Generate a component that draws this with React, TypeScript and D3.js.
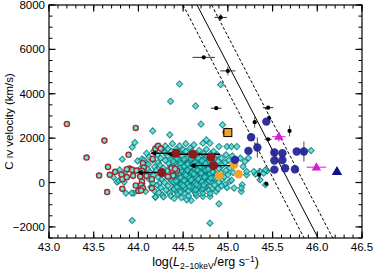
import React from 'react';
import * as d3 from 'd3';

const W = 374, H = 270;
const PL = 49, PR = 362, PT = 5, PB = 238;

const xDomain = [43, 46.5];
const yDomain = [-2500, 8000];
const xMajor = [43.0, 43.5, 44.0, 44.5, 45.0, 45.5, 46.0, 46.5];
const xTickLabels = ['43.0', '43.5', '44.0', '44.5', '45.0', '45.5', '46.0', '46.5'];
const yMajor = [-2000, 0, 2000, 4000, 6000, 8000];
const yTickLabels = ['\u22122000', '0', '2000', '4000', '6000', '8000'];

// relation lines: v = slope * (L - L0)
const relSlope = -7755;
const relL0 = [45.53, 45.687, 45.85];
const relDash = ['3,2', '', '3,2'];

// cyan diamonds [logL, v]
const cyanPoints: [number, number][] = [
  [43.93,-1710],[44.80,-1830],[44.90,-960],[44.59,-810],[44.19,-657],[43.95,-477],[43.86,-477],[43.76,20],
  [44.46,4440],[44.36,3660],[44.92,4410],[44.64,3450],[44.70,2630],[44.94,2600],[44.16,2325],[44.35,2150],
  [45.93,1440],[45.15,-405],[45.31,378],[45.44,527],[45.21,346],[45.07,-250],[45.14,1100],[45.19,945],
  [45.23,1100],[45.17,720],[45.21,495],[45.29,495],[45.36,495],[45.40,420],[45.42,570],[45.36,120],
  [45.42,-100],[44.97,-100],[44.99,-230],[45.16,-100],[45.15,-250],[44.80,-630],[44.72,-630],[44.65,-600],
  [44.76,1920],[44.72,1770],[44.80,1770],[44.90,1620],[44.99,1620],[45.04,1620],[45.10,1620],
  [43.82,1050],[43.79,570],[43.86,500],[43.72,243],[43.96,1800],[43.93,1590],[43.78,75],[43.84,18],
  [43.925,-477],[43.99,975],[44.04,1065],[44.09,1320],[44.09,870],[44.19,-657],
  [44.06,1000],[44.02,620],[44.07,330],[44.04,-60],[44.08,-400],
  [44.12,1150],[44.11,820],[44.13,480],[44.12,150],[44.14,-200],[44.10,620],
  [44.17,1420],[44.16,1010],[44.18,700],[44.17,330],[44.16,-30],[44.18,-380],
  [44.21,1250],[44.22,900],[44.20,560],[44.22,240],[44.21,-120],[44.23,-450],[44.20,1600],
  [44.26,1480],[44.25,1100],[44.24,780],[44.26,130],[44.25,-230],[44.27,-560],[44.24,-20],
  [44.29,1350],[44.30,1000],[44.28,650],[44.30,350],[44.29,0],[44.31,-330],[44.28,-650],[44.30,1650],
  [44.33,1200],[44.34,850],[44.32,520],[44.34,200],[44.33,-150],[44.35,-480],[44.33,1520],
  [44.37,1400],[44.38,1050],[44.36,700],[44.38,420],[44.37,60],[44.39,-280],[44.36,-600],[44.38,1750],
  [44.41,1150],[44.42,880],[44.40,560],[44.42,250],[44.41,-80],[44.43,-420],[44.40,-720],[44.42,1500],
  [44.45,1350],[44.46,1000],[44.44,720],[44.46,400],[44.45,120],[44.47,-200],[44.44,-520],[44.46,1650],
  [44.49,1200],[44.50,900],[44.48,600],[44.50,300],[44.49,-20],[44.51,-350],[44.48,-680],[44.50,1480],
  [44.53,1400],[44.54,1080],[44.52,780],[44.54,480],[44.53,180],[44.55,-150],[44.52,-480],[44.54,-780],[44.53,1750],
  [44.57,1250],[44.58,950],[44.56,640],[44.58,330],[44.57,30],[44.59,-280],[44.56,-600],[44.58,1550],
  [44.61,1100],[44.62,800],[44.60,500],[44.62,200],[44.61,-100],[44.63,-420],[44.60,1400],[44.62,1700],
  [44.65,1300],[44.66,980],[44.64,680],[44.66,380],[44.65,80],[44.67,-230],[44.64,-500],
  [44.69,1150],[44.70,850],[44.68,560],[44.70,250],[44.69,-60],[44.71,-380],[44.68,1450],
  [44.73,1300],[44.74,1000],[44.72,700],[44.74,420],[44.73,120],[44.75,-200],[44.72,-480],
  [44.77,1150],[44.78,820],[44.76,540],[44.78,230],[44.77,-80],[44.79,-350],[44.76,1500],
  [44.81,1300],[44.82,950],[44.80,650],[44.82,350],[44.81,40],[44.83,-260],[44.80,-500],
  [44.85,1100],[44.86,800],[44.84,480],[44.86,180],[44.85,-120],[44.87,-400],[44.84,1400],
  [44.89,950],[44.90,620],[44.88,330],[44.90,20],[44.89,-280],[44.88,1250],
  [44.93,1100],[44.94,780],[44.92,450],[44.94,150],[44.93,-150],
  [44.97,900],[44.98,550],[44.96,250],[44.98,1250],
  [45.01,1000],[45.02,650],[45.00,350],[45.02,50],
  [45.05,1200],[45.06,450],[45.04,100],
  [44.39,950],[44.39,640],[44.40,330],[44.39,20],[44.40,-300],
  [44.43,1080],[44.44,770],[44.43,450],[44.44,140],[44.43,-200],
  [44.47,860],[44.48,520],[44.47,220],[44.48,-90],[44.47,-420],
  [44.51,1050],[44.51,720],[44.52,400],[44.51,90],[44.52,-250],
  [44.55,880],[44.55,560],[44.56,250],[44.55,-60],[44.56,-380],
  [44.59,1080],[44.59,780],[44.60,440],[44.59,120],[44.60,-180],
  [44.63,900],[44.63,600],[44.64,300],[44.63,-20],[44.64,-330],
  [44.67,1100],[44.67,800],[44.68,460],[44.67,160],[44.68,-130],
  [44.71,980],[44.71,680],[44.72,370],[44.71,40],[44.72,-280],
  [44.75,870],[44.75,560],[44.76,260],[44.75,-50],
  [44.79,980],[44.79,680],[44.80,380],[44.79,80],
  [44.83,800],[44.83,480],[44.84,200],
  [44.46,650],[44.53,330],[44.58,700],[44.62,380],[44.66,560],[44.70,420],[44.74,250],[44.78,600],
  [44.50,-150],[44.57,-180],[44.65,-90],[44.73,-120],[44.81,200],[44.69,720],[44.55,820],[44.42,60],
];

// red open circles [logL, v]
const redRings: [number, number][] = [
  [43.20,2640],[43.62,1890],[43.42,1125],[43.66,705],[43.56,315],[43.68,346],[43.74,480],[43.81,360],
  [43.89,1250],[43.65,-430],[43.82,150],[43.82,-285],[43.90,630],[43.94,300],[43.97,-135],[44.00,-375],
  [44.03,-225],[44.05,540],[44.09,300],[44.15,150],[44.19,1515],[44.22,1650],[44.15,-250],[44.33,270],
  [43.97,2460],[44.25,1530],[44.16,1065],[44.05,870],[44.06,675],[43.87,600],[43.93,570],[43.98,540],
  [44.04,525],[44.38,540],[44.43,540],[43.87,243],[44.02,270],[44.04,45],[44.03,-117],[44.05,-250],
  [44.03,-360],[44.39,315],[44.37,650],[44.41,615],
];

// dark red filled upper limits
const limitL = [44.42, 44.61, 44.26, 44.84];
const limitV = [1320, 1275, 450, 760];
const limitLo = [44.13, 44.32, 43.98, 44.57];
const limitHi = [44.42, 44.91, 44.26, 45.03];
const redFilled: [number, number][] = [[44.81, 1140], [44.99, 2260]];

// orange
const orangePoints: [number, number][] = [[45.07, 800], [45.12, 378], [44.90, 300]];
const orangeSquare: [number, number][] = [[45.0, 2250]];

// black points [L, v, xerr, yerr]
const blackPoints: [number, number, number, number][] = [
  [44.92,7440,0.07,150],[44.73,5640,0.125,0],[45.00,5030,0.085,200],[44.87,3350,0.06,0],
  [45.45,3375,0.06,0],[45.46,2900,0,150],[45.30,2720,0,250],[45.69,2325,0,250],
  [45.45,1950,0.04,0],[45.35,346,0,300],[45.43,-60,0,0],
];

// navy circles [L, v, xerr, yerr]
const navyPoints: [number, number, number, number][] = [
  [45.43,2745,0,0],[45.26,2040,0,0],[45.23,1425,0,0],[45.33,1575,0,450],[45.52,1350,0,0],
  [45.61,1320,0,0],[45.52,990,0,0],[45.61,1010,0,0],[45.52,580,0,0],[45.64,640,0,0],
  [45.77,1395,0,0],[45.85,1395,0,450],[45.75,600,0,0],[45.08,1020,0,0],
];
const navyTriangle: [number, number][] = [[46.22, 495]];

// magenta triangles [L, v, xerr, yerr]
const magentaPoints: [number, number, number, number][] = [
  [45.57,2070,0.075,220],[45.99,690,0.11,0],
];

export default function App() {
  const x = d3.scaleLinear().domain(xDomain).range([PL, PR]);
  const y = d3.scaleLinear().domain(yDomain).range([PB, PT]);
  const xMinor = d3.range(43.0, 46.5001, 0.1);
  const yMinor = d3.range(-2500, 8000.1, 500);
  const font = 'Liberation Sans, Arial, Helvetica, sans-serif';
  const diamond = (cx: number, cy: number, s: number) =>
    `M${cx},${cy - s}L${cx + s},${cy}L${cx},${cy + s}L${cx - s},${cy}Z`;
  const tri = (cx: number, cy: number, s: number) =>
    `M${cx},${cy - s}L${cx + s * 0.95},${cy + s * 0.65}L${cx - s * 0.95},${cy + s * 0.65}Z`;

  const relLines = relL0.map((l0, i) => {
    const v1 = yDomain[1], v0 = yDomain[0];
    return { x1: x(l0 + v1 / relSlope), y1: y(v1), x2: x(l0 + v0 / relSlope), y2: y(v0), dash: relDash[i] };
  });

  return (
    <svg width={W} height={H} style={{ position: 'absolute', left: 0, top: 0, background: '#fff' }}
      fontFamily={font}>
      <defs>
        <clipPath id="plot"><rect x={PL} y={PT} width={PR - PL} height={PB - PT} /></clipPath>
      </defs>
      <rect x={0} y={0} width={W} height={H} fill="#fff" />
      <g clipPath="url(#plot)">
        {relLines.map((l, i) => (
          <line key={i} x1={l.x1} y1={l.y1} x2={l.x2} y2={l.y2} stroke="#000" strokeWidth={1}
            strokeDasharray={l.dash || undefined} />
        ))}
        {cyanPoints.map((p, i) => (
          <path key={'c' + i} d={diamond(x(p[0]), y(p[1]), 3.1)} fill="#42d8d2" stroke="#097575"
            strokeWidth={1.05} fillOpacity={0.8} strokeOpacity={0.8} />
        ))}
        {redRings.map((p, i) => (
          <circle key={'r' + i} cx={x(p[0])} cy={y(p[1])} r={2.6} fill="#5fe6e0" stroke="#a02c2c" strokeWidth={1.4} />
        ))}
        {limitL.map((l, i) => {
          const yy = y(limitV[i]);
          const xl = x(limitLo[i]);
          return (
            <g key={'lim' + i}>
              <line x1={xl + 3} y1={yy} x2={x(limitHi[i])} y2={yy} stroke="#000" strokeWidth={1.4} />
              <path d={`M${xl},${yy}L${xl + 6},${yy - 2.8}L${xl + 6},${yy + 2.8}Z`} fill="#000" />
            </g>
          );
        })}
        {redFilled.map((p, i) => (
          <circle key={'rf' + i} cx={x(p[0])} cy={y(p[1])} r={4.5} fill="#8e1b1b" />
        ))}
        {limitL.map((l, i) => (
          <circle key={'lc' + i} cx={x(l)} cy={y(limitV[i])} r={4.5} fill="#8e1b1b" />
        ))}
        {orangePoints.map((p, i) => (
          <circle key={'o' + i} cx={x(p[0])} cy={y(p[1])} r={4.3} fill="#f2a22a" />
        ))}
        {orangeSquare.map((p, i) => (
          <rect key={'os' + i} x={x(p[0]) - 4} y={y(p[1]) - 4} width={8} height={8} fill="#f2a22a" stroke="#000" strokeWidth={1} />
        ))}
        {blackPoints.map((p, i) => {
          const cx = x(p[0]), cy = y(p[1]);
          return (
            <g key={'b' + i}>
              {p[2] > 0 && <line x1={x(p[0] - p[2])} x2={x(p[0] + p[2])} y1={cy} y2={cy} stroke="#333" strokeWidth={1} />}
              {p[3] > 0 && <line x1={cx} x2={cx} y1={y(p[1] - p[3])} y2={y(p[1] + p[3])} stroke="#555" strokeWidth={1} />}
              <circle cx={cx} cy={cy} r={2.1} fill="#000" />
            </g>
          );
        })}
        {navyPoints.map((p, i) => {
          const cx = x(p[0]), cy = y(p[1]);
          return (
            <g key={'n' + i}>
              {p[3] > 0 && <line x1={cx} x2={cx} y1={y(p[1] - p[3])} y2={y(p[1] + p[3])} stroke="#666" strokeWidth={1.2} />}
              <circle cx={cx} cy={cy} r={4.2} fill="#1f1f96" fillOpacity={0.92} />
            </g>
          );
        })}
        {navyTriangle.map((p, i) => (
          <path key={'nt' + i} d={tri(x(p[0]), y(p[1]), 5.5)} fill="#11118a" />
        ))}
        {magentaPoints.map((p, i) => {
          const cx = x(p[0]), cy = y(p[1]);
          return (
            <g key={'m' + i}>
              {p[2] > 0 && <line x1={x(p[0] - p[2])} x2={x(p[0] + p[2])} y1={cy} y2={cy} stroke="#e040e0" strokeWidth={1.2} />}
              {p[3] > 0 && <line x1={cx} x2={cx} y1={y(p[1] - p[3])} y2={y(p[1] + p[3])} stroke="#e040e0" strokeWidth={1.2} />}
              <path d={tri(cx, cy, 5)} fill="#d11fd1" />
            </g>
          );
        })}
      </g>
      {/* frame */}
      <rect x={PL} y={PT} width={PR - PL} height={PB - PT} fill="none" stroke="#000" strokeWidth={1.2} />
      {/* x ticks */}
      {xMinor.map((t, i) => (
        <g key={'xm' + i}>
          <line x1={x(t)} x2={x(t)} y1={PB} y2={PB - 3.5} stroke="#000" />
          <line x1={x(t)} x2={x(t)} y1={PT} y2={PT + 3.5} stroke="#000" />
        </g>
      ))}
      {xMajor.map((t, i) => (
        <g key={'xM' + i}>
          <line x1={x(t)} x2={x(t)} y1={PB} y2={PB - 6.5} stroke="#000" strokeWidth={1.2} />
          <line x1={x(t)} x2={x(t)} y1={PT} y2={PT + 6.5} stroke="#000" strokeWidth={1.2} />
          <text x={x(t)} y={PB + 13} textAnchor="middle" fontSize={11.5} fill="#000">{xTickLabels[i]}</text>
        </g>
      ))}
      {yMinor.map((t, i) => (
        <g key={'ym' + i}>
          <line x1={PL} x2={PL + 3.5} y1={y(t)} y2={y(t)} stroke="#000" />
          <line x1={PR} x2={PR - 3.5} y1={y(t)} y2={y(t)} stroke="#000" />
        </g>
      ))}
      {yMajor.map((t, i) => (
        <g key={'yM' + i}>
          <line x1={PL} x2={PL + 6.5} y1={y(t)} y2={y(t)} stroke="#000" strokeWidth={1.2} />
          <line x1={PR} x2={PR - 6.5} y1={y(t)} y2={y(t)} stroke="#000" strokeWidth={1.2} />
          <text x={PL - 4} y={y(t) + 4} textAnchor="end" fontSize={11.5} fill="#000">{yTickLabels[i]}</text>
        </g>
      ))}
      {/* axis titles */}
      <text x={(PL + PR) / 2} y={266} textAnchor="middle" fontSize={12.5} fill="#000">
        log(<tspan fontStyle="italic">L</tspan><tspan fontSize={8.5} dy={2.5}>2−10keV</tspan><tspan dy={-2.5}>/erg s</tspan><tspan fontSize={8.5} dy={-4}>−1</tspan><tspan dy={4}>)</tspan>
      </text>
      <text transform={`translate(13,${(PT + PB) / 2}) rotate(-90)`} textAnchor="middle" fontSize={11.5} fill="#000">
        C <tspan fontSize={9}>IV</tspan> velocity (km/s)
      </text>
    </svg>
  );
}
